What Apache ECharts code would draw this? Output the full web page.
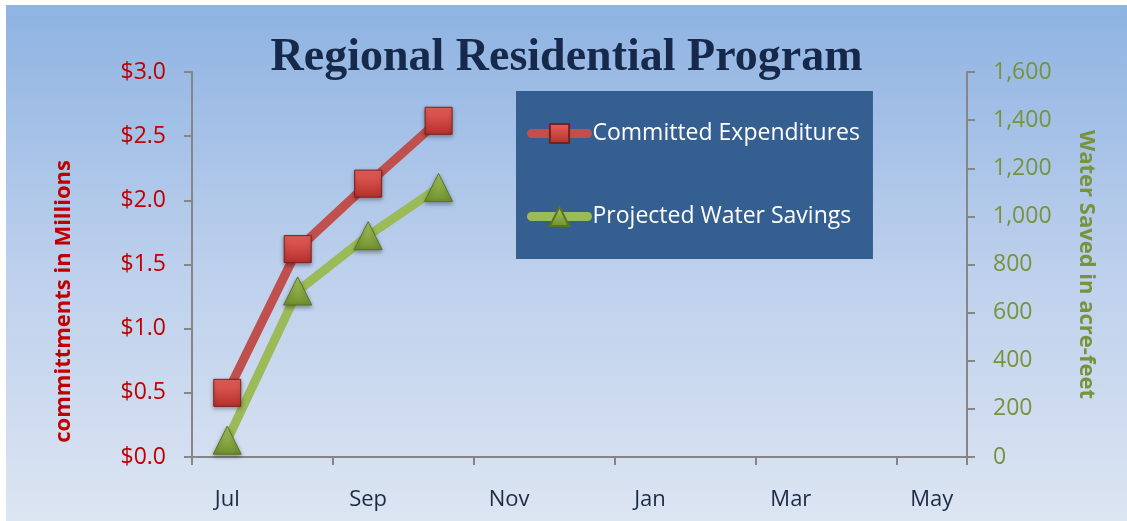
<!DOCTYPE html>
<html>
<head>
<meta charset="utf-8">
<script src="https://cdn.jsdelivr.net/npm/echarts@6/dist/echarts.min.js"></script>
<style>
  html, body { margin: 0; padding: 0; background: #fff; }
  #main { position: absolute; left: 6px; top: 5px; width: 1121px; height: 516px; }
</style>
</head>
<body>
<div id="main"></div>
<script>
// months on the x axis
var months = ["Jul", "Aug", "Sep", "Oct", "Nov", "Dec", "Jan", "Feb", "Mar", "Apr", "May"];
// committed expenditures, $ millions
var expenditures = [0.5, 1.62, 2.13, 2.62];
// projected water savings, acre-feet
var waterSavings = [70, 690, 920, 1120];

var dom = document.getElementById("main");
var myChart = echarts.init(dom, null, { renderer: "canvas" });

var labelFont = "Open Sans";

function bevel(light, dark) {
  return new echarts.graphic.LinearGradient(0, 0, 0, 1, [
    { offset: 0, color: light },
    { offset: 1, color: dark }
  ]);
}

var option = {
  backgroundColor: new echarts.graphic.LinearGradient(0, 0, 0, 1, [
    { offset: 0, color: "#8EB3E2" },
    { offset: 0.5, color: "#BCCFEC" },
    { offset: 1, color: "#DCE5F2" }
  ]),
  title: {
    text: "Regional Residential Program",
    left: "center",
    top: 25,
    textStyle: {
      fontFamily: "Liberation Serif",
      fontWeight: "bold",
      fontSize: 46,
      color: "#17294A"
    }
  },
  grid: { left: 186, top: 67, width: 775, height: 385 },
  legend: {
    orient: "vertical",
    left: 510,
    top: 86,
    backgroundColor: "#355F91",
    padding: [31, 13, 31, 11],
    itemGap: 60,
    itemWidth: 56,
    itemHeight: 24,
    lineStyle: { width: 9, cap: "round" },
    textStyle: { color: "#fff", fontFamily: labelFont, fontSize: 23 }
  },
  xAxis: {
    type: "category",
    data: months,
    boundaryGap: true,
    axisLine: { lineStyle: { color: "#868686", width: 2 } },
    axisTick: { show: true, length: 8, lineStyle: { color: "#868686", width: 2 } },
    axisLabel: { interval: 1, margin: 32, color: "#1B2A45", fontFamily: labelFont, fontSize: 22 }
  },
  yAxis: [
    {
      type: "value",
      min: 0,
      max: 3,
      interval: 0.5,
      position: "left",
      splitLine: { show: false },
      axisLine: { show: true, lineStyle: { color: "#868686", width: 2 } },
      axisTick: { show: true, length: 8, lineStyle: { color: "#868686", width: 2 } },
      axisLabel: {
        margin: 26,
        color: "#C00000",
        fontFamily: labelFont,
        fontSize: 23,
        formatter: function (v) { return "$" + v.toFixed(1); }
      }
    },
    {
      type: "value",
      min: 0,
      max: 1600,
      interval: 200,
      position: "right",
      splitLine: { show: false },
      name: "Water Saved in acre-feet",
      nameLocation: "middle",
      nameRotate: -90,
      nameGap: 108,
      nameTextStyle: { color: "#77933C", fontFamily: labelFont, fontWeight: "bold", fontSize: 22 },
      axisLine: { show: true, lineStyle: { color: "#868686", width: 2 } },
      axisTick: { show: true, length: 8, lineStyle: { color: "#868686", width: 2 } },
      axisLabel: {
        margin: 26,
        color: "#77933C",
        fontFamily: labelFont,
        fontSize: 23,
        formatter: function (v) { return v.toLocaleString("en-US"); }
      }
    }
  ],
  graphic: [
    {
      type: "text",
      left: 47,
      top: 155,
      rotation: Math.PI / 2,
      style: {
        text: "committments in Millions",
        fill: "#C00000",
        font: "bold 22px 'Open Sans'"
      }
    }
  ],
  series: [
    {
      name: "Committed Expenditures",
      type: "line",
      yAxisIndex: 0,
      data: expenditures,
      symbol: "rect",
      symbolSize: 27,
      lineStyle: { color: "#C0504D", width: 9 },
      itemStyle: {
        color: bevel("#E8625C", "#B42F2C"),
        borderColor: "#7E1E1C",
        borderWidth: 1,
        shadowColor: "rgba(0,0,0,0.35)",
        shadowBlur: 4,
        shadowOffsetY: 2
      },
      z: 3
    },
    {
      name: "Projected Water Savings",
      type: "line",
      yAxisIndex: 1,
      data: waterSavings,
      symbol: "triangle",
      symbolSize: 28,
      lineStyle: { color: "#9BBB59", width: 9 },
      itemStyle: {
        color: bevel("#A6C85E", "#6F8F2E"),
        borderColor: "#5A7424",
        borderWidth: 1,
        shadowColor: "rgba(0,0,0,0.35)",
        shadowBlur: 4,
        shadowOffsetY: 2
      },
      z: 2
    }
  ]
};

myChart.setOption(option);
window.addEventListener("resize", myChart.resize);
</script>
</body>
</html>
